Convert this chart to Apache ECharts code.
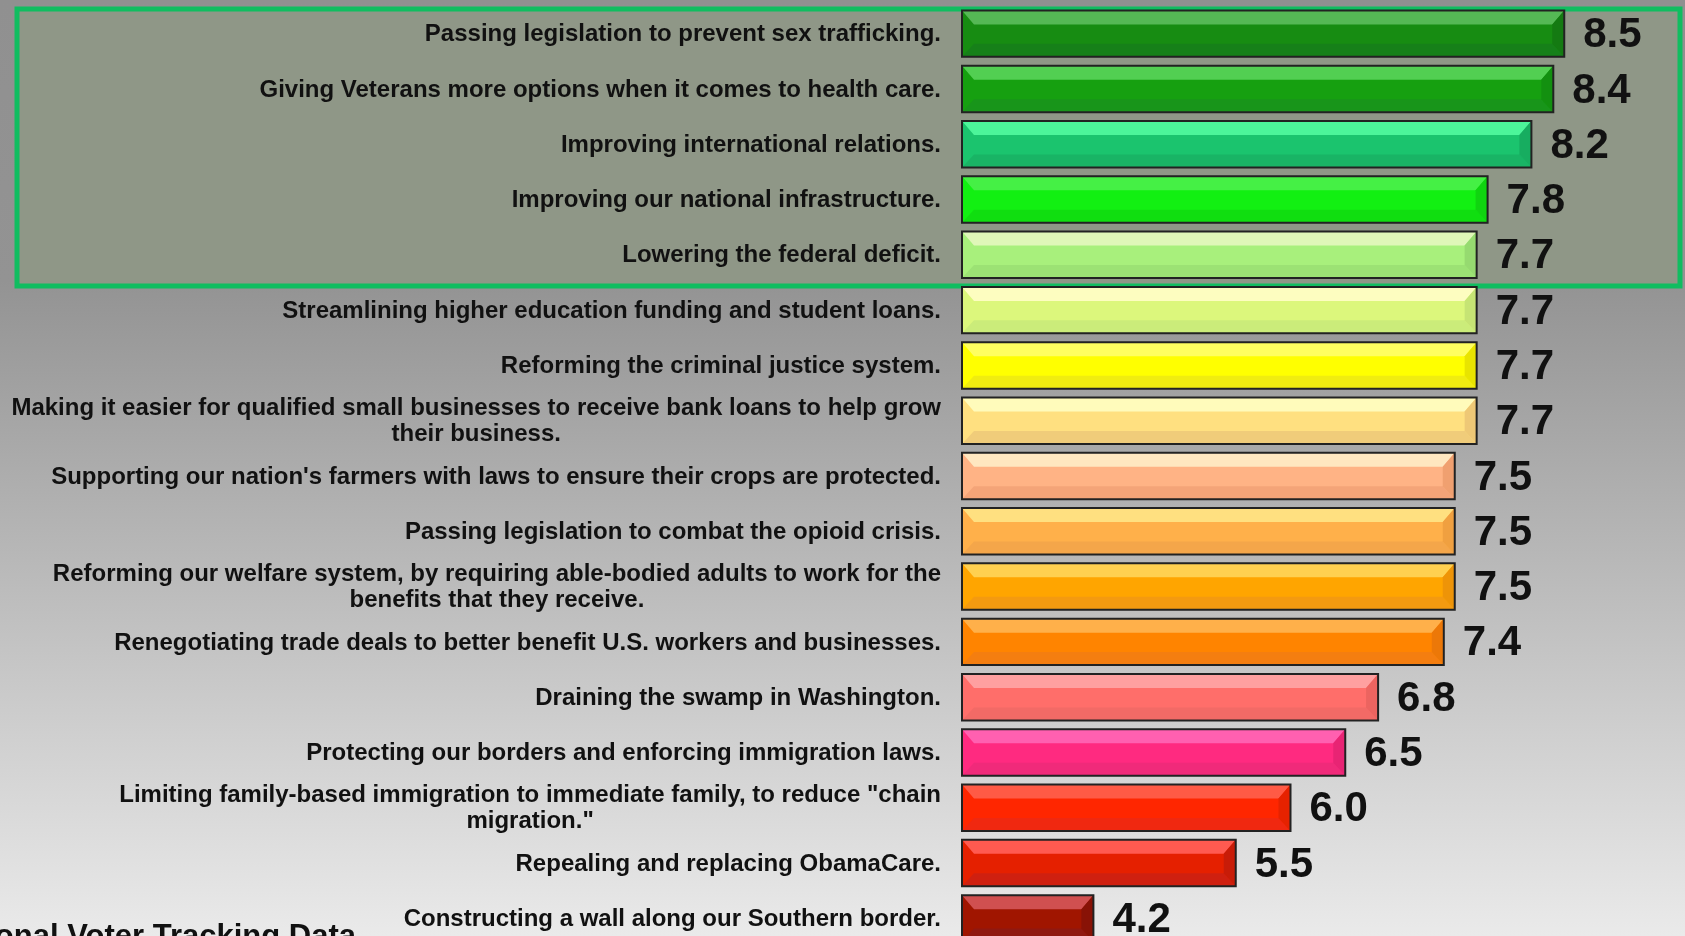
<!DOCTYPE html>
<html>
<head>
<meta charset="utf-8">
<script src="https://cdn.jsdelivr.net/npm/echarts@6/dist/echarts.min.js"></script>
<style>
  html, body { margin: 0; padding: 0; }
  #chart {
    width: 1685px; height: 936px;
    background: linear-gradient(to bottom, #909090 0%, #939393 30%, #eaeaea 100%);
  }
</style>
</head>
<body>
<div id="chart"></div>
<script>
// issues, top to bottom
var categories = [
  'Passing legislation to prevent sex trafficking.',
  'Giving Veterans more options when it comes to health care.',
  'Improving international relations.',
  'Improving our national infrastructure.',
  'Lowering the federal deficit.',
  'Streamlining higher education funding and student loans.',
  'Reforming the criminal justice system.',
  'Making it easier for qualified small businesses to receive bank loans to help grow\ntheir business.',
  "Supporting our nation's farmers with laws to ensure their crops are protected.",
  'Passing legislation to combat the opioid crisis.',
  'Reforming our welfare system, by requiring able-bodied adults to work for the\nbenefits that they receive.',
  'Renegotiating trade deals to better benefit U.S. workers and businesses.',
  'Draining the swamp in Washington.',
  'Protecting our borders and enforcing immigration laws.',
  'Limiting family-based immigration to immediate family, to reduce "chain\nmigration."',
  'Repealing and replacing ObamaCare.',
  'Constructing a wall along our Southern border.'
];
var scores = [8.5, 8.4, 8.2, 7.8, 7.7, 7.7, 7.7, 7.7, 7.5, 7.5, 7.5, 7.4, 6.8, 6.5, 6.0, 5.5, 4.2];

// [top bevel, face, bottom bevel, right bevel]
var palette = [
  ['#55b855', '#178c12', '#168019', '#147a12'],
  ['#52cf52', '#16a010', '#18951a', '#139010'],
  ['#4cf59a', '#1bc46e', '#19b465', '#17ad60'],
  ['#45f045', '#12f012', '#10de10', '#10d410'],
  ['#dff7b8', '#a8f07c', '#9ce274', '#96da70'],
  ['#fdfdc0', '#dcf77c', '#cbec7a', '#c6e474'],
  ['#ffff60', '#ffff00', '#f0ec10', '#e8e400'],
  ['#fffbbb', '#ffe080', '#f0cc7a', '#eec876'],
  ['#ffe7c0', '#ffb385', '#f4a478', '#f0a070'],
  ['#ffe080', '#ffb04a', '#f4a64a', '#f0a040'],
  ['#ffd050', '#ffa500', '#f49a10', '#ee9408'],
  ['#ffb04a', '#ff8400', '#f47e10', '#ec7808'],
  ['#ffa0a0', '#ff6e6a', '#f26a66', '#ec6460'],
  ['#ff60b0', '#ff2a80', '#f02a7a', '#e82474'],
  ['#ff5a45', '#ff2600', '#f02810', '#e62200'],
  ['#ff5a50', '#e52000', '#cf2010', '#c81c08'],
  ['#d05050', '#a01500', '#901810', '#881206']
];

var AXIS_MIN = 3;
var FONT = 'Liberation Sans';
var LABEL_SIZE = 24;

var measureCtx = document.createElement('canvas').getContext('2d');
function widestLine(text) {
  measureCtx.font = 'bold ' + LABEL_SIZE + 'px "' + FONT + '"';
  return Math.max.apply(null, text.split('\n').map(function (l) {
    return measureCtx.measureText(l).width;
  }));
}

function renderBar(params, api) {
  var idx = api.value(0);
  var val = api.value(1);
  var start = api.coord([AXIS_MIN, idx]);
  var end = api.coord([val, idx]);
  var h = api.size([0, 1])[1] * 0.84;
  var x0 = start[0], x1 = end[0];
  var y0 = start[1] - h / 2, y1 = start[1] + h / 2;
  var bx = 12, bt = 14, bb = 13;
  var c = palette[idx];
  var label = categories[idx];
  var w = widestLine(label);
  return {
    type: 'group',
    children: [
      { type: 'rect', shape: { x: x0, y: y0, width: x1 - x0, height: h }, style: { fill: c[1] } },
      { type: 'polygon', shape: { points: [[x0, y0], [x1, y0], [x1 - bx, y0 + bt], [x0 + bx, y0 + bt]] }, style: { fill: c[0] } },
      { type: 'polygon', shape: { points: [[x0, y1], [x1, y1], [x1 - bx, y1 - bb], [x0 + bx, y1 - bb]] }, style: { fill: c[2] } },
      { type: 'polygon', shape: { points: [[x1, y0], [x1, y1], [x1 - bx, y1 - bb], [x1 - bx, y0 + bt]] }, style: { fill: c[3] } },
      { type: 'rect', shape: { x: x0, y: y0, width: x1 - x0, height: h }, style: { fill: null, stroke: '#222', lineWidth: 2 } },
      {
        type: 'text', x: x0 - 21 - w / 2, y: start[1] + 1,
        style: {
          text: label, fontFamily: FONT, fontWeight: 'bold', fontSize: LABEL_SIZE,
          fill: '#111', align: 'center', verticalAlign: 'middle', lineHeight: 26
        }
      },
      {
        type: 'text', x: x1 + 19, y: start[1] + 2,
        style: {
          text: val.toFixed(1), fontFamily: FONT, fontWeight: 'bold', fontSize: 42,
          fill: '#111', align: 'left', verticalAlign: 'middle'
        }
      }
    ]
  };
}

var chart = echarts.init(document.getElementById('chart'));
chart.setOption({
  animation: false,
  grid: { left: 962, width: 657, top: 6, height: 940, outerBoundsMode: 'none' },
  xAxis: { type: 'value', min: AXIS_MIN, max: 9, show: false },
  yAxis: { type: 'category', data: categories, inverse: true, show: false },
  graphic: [
    {
      type: 'rect', z: 0,
      shape: { x: 17, y: 9, width: 1663, height: 277 },
      style: { fill: '#8f9787', stroke: '#10bd60', lineWidth: 5 }
    },
    {
      type: 'text', z: 1, right: 1685 - 356, top: 922,
      style: {
        text: 'National Voter Tracking Data', fontFamily: FONT, fontWeight: 'bold', fontSize: 31, fill: '#111'
      }
    }
  ],
  series: [{
    type: 'custom',
    z: 5,
    renderItem: renderBar,
    encode: { x: 1, y: 0 },
    data: scores.map(function (v, i) { return [i, v]; })
  }]
});
</script>
</body>
</html>
